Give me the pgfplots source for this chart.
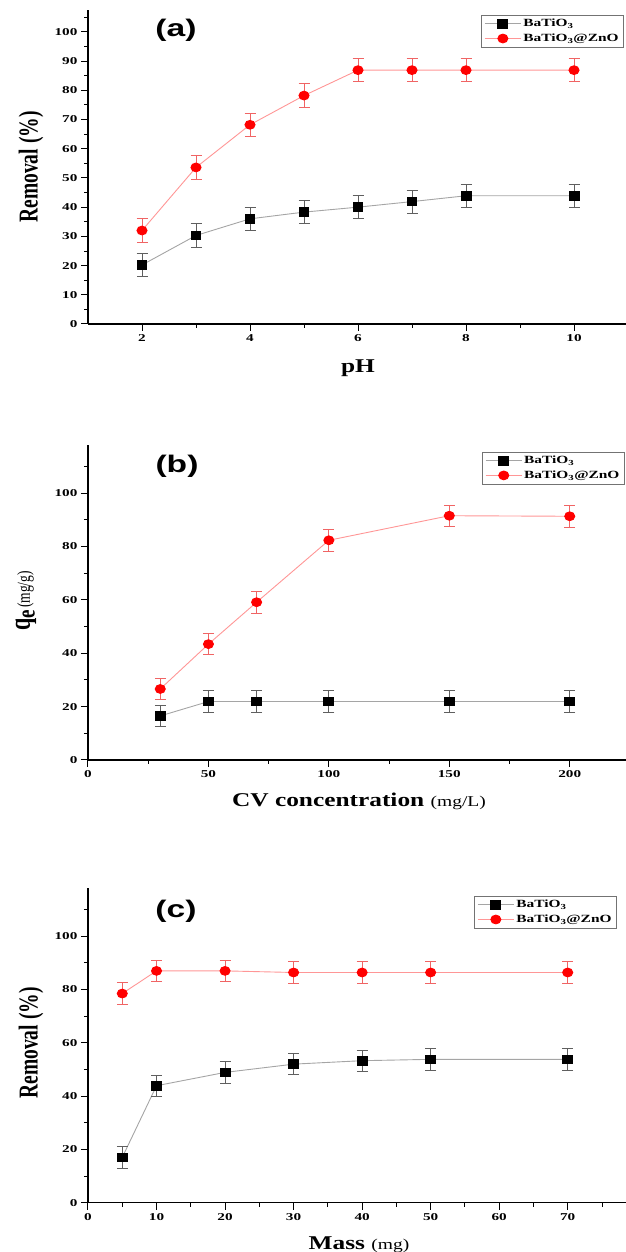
\documentclass[border=0pt]{standalone}
\usepackage{fontspec}
\usepackage{graphicx}
\usepackage{pgfplots}
\usepackage{pgfplotstable}
\pgfplotsset{compat=1.18}
\setmainfont{Liberation Serif}
\newfontfamily\tickf[FakeStretch=1.45]{Liberation Serif}
\newfontfamily\labf[FakeStretch=1.3]{Liberation Serif}
\newfontfamily\legf[FakeStretch=1.4]{Liberation Serif}
\newfontfamily\panf[FakeStretch=1.4]{Liberation Sans}

\definecolor{redline}{RGB}{255,150,150}
\definecolor{rederr}{RGB}{240,100,100}
\definecolor{mred}{RGB}{255,0,0}
\definecolor{grayline}{RGB}{165,165,165}
\definecolor{grayerr}{RGB}{95,95,95}

\pgfplotstableread{
x y e
2 20.2 4
3 30.3 4
4 36.0 4
5 38.3 4
6 40.0 4
7 41.9 4
8 43.9 4
10 43.9 4
}\aBT
\pgfplotstableread{
x y e
2 32.0 4
3 53.6 4
4 68.2 4
5 78.2 4
6 86.9 4
7 86.9 4
8 86.9 4
10 86.9 4
}\aZn
\pgfplotstableread{
x y e
30 16.5 4
50 21.9 4
70 21.9 4
100 21.9 4
150 21.9 4
200 21.9 4
}\bBT
\pgfplotstableread{
x y e
30 26.6 4
50 43.4 4
70 59.1 4
100 82.3 4
150 91.5 4
200 91.3 4
}\bZn
\pgfplotstableread{
x y e
5 17.0 4
10 43.9 4
20 48.9 4
30 52.0 4
40 53.3 4
50 53.8 4
70 53.8 4
}\cBT
\pgfplotstableread{
x y e
5 78.5 4
10 87.0 4
20 87.0 4
30 86.4 4
40 86.4 4
50 86.4 4
70 86.4 4
}\cZn

\pgfplotsset{
  panel/.style={
    scale only axis, width=540pt, anchor=south west,
    axis x line=bottom, axis y line=left,
    axis line style={-, line width=1.3pt, black},
    tick align=outside,
    major tick length=7pt, minor tick length=4pt,
    tick style={black, line width=1pt},
    minor tick style={black, line width=0.9pt},
    tick label style={font=\tickf\bfseries\fontsize{10.5}{12}\selectfont},
    /pgf/number format/assume math mode=true,
    legend cell align=left,
    legend style={draw=black!55, line width=0.6pt, inner xsep=3pt, inner ysep=2pt,
      font=\legf\bfseries\fontsize{11}{13}\selectfont, row sep=1.5pt, anchor=north west},
    legend image code/.code={%
      \draw[mark repeat=2,mark phase=2] plot coordinates {(0pt,0pt) (18pt,0pt) (36pt,0pt)};},
  },
  btser/.style={draw=grayline, line width=0.9pt, mark=square*, mark size=4.3pt,
    mark options={solid, fill=black, draw=black, xscale=1.15},
    error bars/.cd, y dir=both, y explicit,
    error bar style={grayerr, line width=0.8pt},
    error mark options={grayerr, line width=0.8pt, mark size=5.5pt, rotate=90}},
  znser/.style={draw=redline, line width=0.9pt, mark=*, mark size=4.4pt,
    mark options={solid, fill=mred, draw=mred, xscale=1.15},
    error bars/.cd, y dir=both, y explicit,
    error bar style={rederr, line width=0.8pt},
    error mark options={rederr, line width=0.8pt, mark size=5.5pt, rotate=90}},
}

\begin{document}
\begin{tikzpicture}
\useasboundingbox (0,0) rectangle (626pt,1252pt);

% ---------- (a)
\begin{axis}[panel, at={(88pt,928pt)}, height=314pt,
  xmin=1, xmax=11, ymin=0, ymax=107.5,
  xtick={2,4,...,10}, minor xtick={3,5,7,9,11},
  ytick={0,10,...,100}, minor ytick={5,15,...,105},
  legend style={at={(0.728,0.984)}}]
\addplot[btser] table[x=x, y=y, y error=e] {\aBT};
\addlegendentry{BaTiO\textsubscript{3}}
\addplot[znser] table[x=x, y=y, y error=e] {\aZn};
\addlegendentry{BaTiO\textsubscript{3}@ZnO}
\end{axis}

% ---------- (b)
\begin{axis}[panel, at={(88pt,492pt)}, height=315pt,
  xmin=0, xmax=224.2, ymin=0, ymax=118,
  xtick={0,50,...,200}, minor xtick={25,75,...,225},
  ytick={0,20,...,100}, minor ytick={10,30,...,110},
  legend style={at={(0.7296,0.978)}}]
\addplot[btser] table[x=x, y=y, y error=e] {\bBT};
\addlegendentry{BaTiO\textsubscript{3}}
\addplot[znser] table[x=x, y=y, y error=e] {\bZn};
\addlegendentry{BaTiO\textsubscript{3}@ZnO}
\end{axis}

% ---------- (c)
\begin{axis}[panel, at={(88pt,49.3pt)}, height=314.4pt,
  xmin=0, xmax=78.8, ymin=0, ymax=118,
  xtick={0,10,...,70}, minor xtick={5,15,...,75},
  ytick={0,20,...,100}, minor ytick={10,30,...,110},
  legend style={at={(0.715,0.9755)}}]
\addplot[btser] table[x=x, y=y, y error=e] {\cBT};
\addlegendentry{BaTiO\textsubscript{3}}
\addplot[znser] table[x=x, y=y, y error=e] {\cZn};
\addlegendentry{BaTiO\textsubscript{3}@ZnO}
\end{axis}

% panel labels
\node at (176pt,1222pt) {\panf\bfseries\fontsize{24}{28}\selectfont (a)};
\node at (177pt,786pt) {\panf\bfseries\fontsize{24}{28}\selectfont (b)};
\node at (176pt,341pt) {\panf\bfseries\fontsize{24}{28}\selectfont (c)};

% x labels
\node[anchor=base] at (358pt,879pt) {\labf\bfseries\fontsize{19.5}{23}\selectfont pH};
\node[anchor=base] at (359pt,445pt) {\labf\bfseries\fontsize{19.5}{23}\selectfont CV concentration {\mdseries\fontsize{15}{18}\selectfont (mg/L)}};
\node[anchor=base] at (359pt,2pt) {\labf\bfseries\fontsize{19.5}{23}\selectfont Mass {\mdseries\fontsize{15}{18}\selectfont (mg)}};

% y labels
\node[rotate=90] at (31pt,1085pt) {\scalebox{1}[1.4]{\bfseries\fontsize{19.5}{23}\selectfont Removal (\%)}};
\node[rotate=90] at (26pt,651pt) {\scalebox{1}[1.35]{\bfseries\fontsize{22}{26}\selectfont q\kern0.5pt\raisebox{-3.5pt}{\fontsize{19}{23}\selectfont e}\kern2pt{\mdseries\fontsize{13.5}{16}\selectfont (mg/g)}}};
\node[rotate=90] at (31pt,209pt) {\scalebox{1}[1.4]{\bfseries\fontsize{19.5}{23}\selectfont Removal (\%)}};
\end{tikzpicture}
\end{document}
